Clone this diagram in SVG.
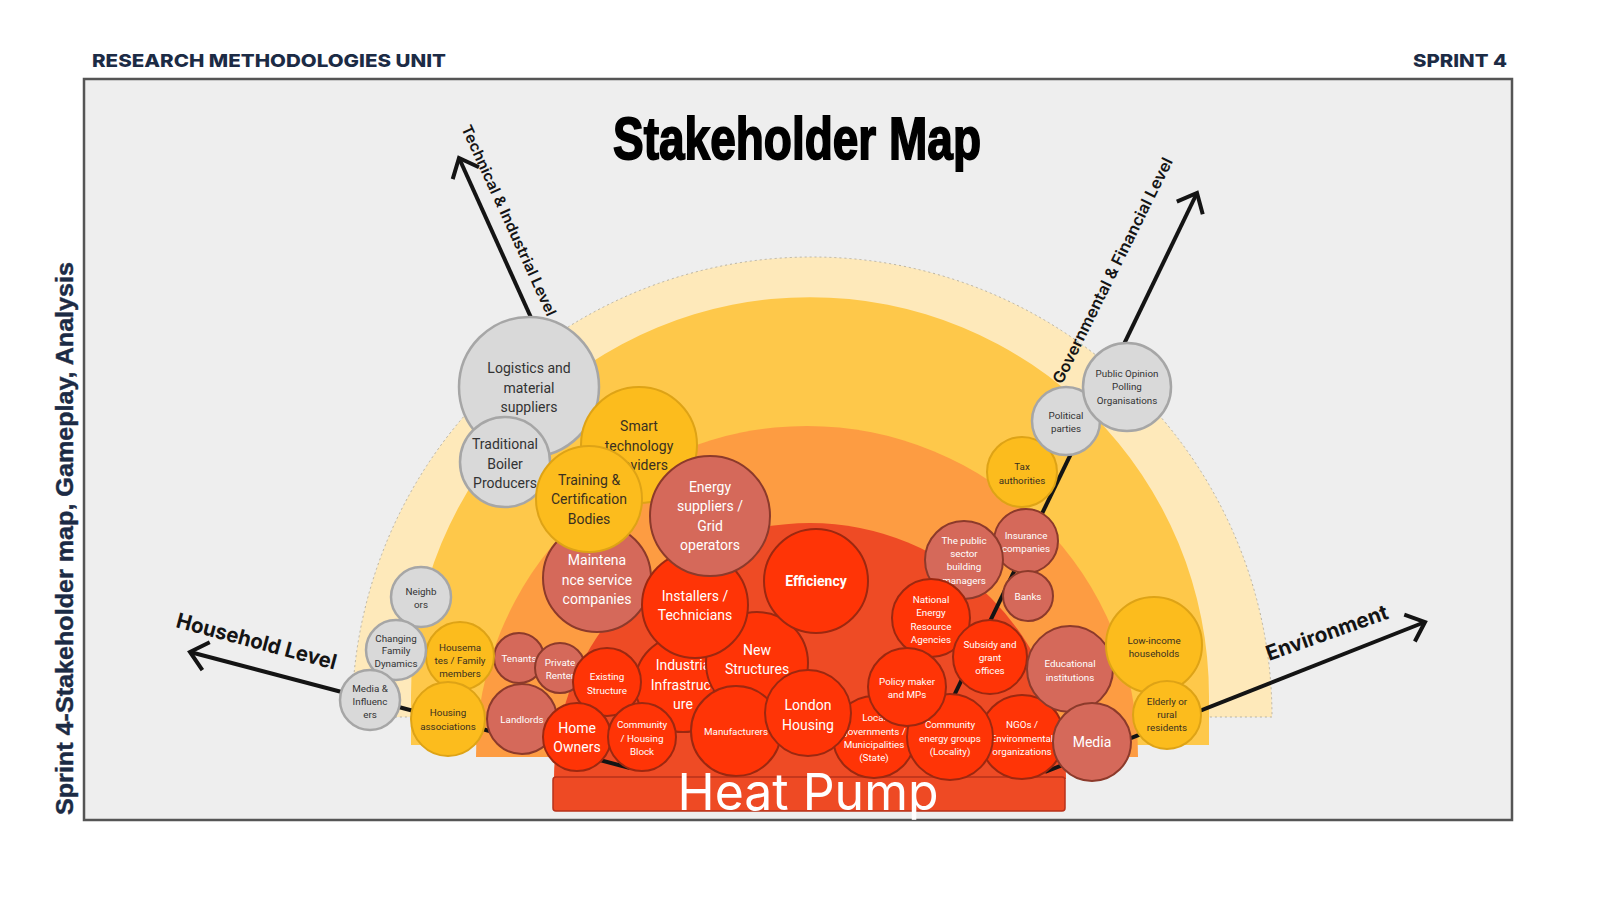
<svg xmlns="http://www.w3.org/2000/svg" width="1600" height="900" viewBox="0 0 1600 900">
<defs>
<style>
.hdr{font-family:Inter,"Liberation Sans",sans-serif;font-weight:800;fill:#1c2b45}
.title{font-family:"Liberation Sans",Arial,sans-serif;font-weight:700;fill:#000;stroke:#000;stroke-width:1.8}
.side{font-family:"Liberation Sans",Arial,sans-serif;font-weight:700;fill:#1c2b45;stroke:#1c2b45;stroke-width:0.4}
.axis{fill:none;stroke:#141414;stroke-width:4}
.axl{font-family:Inter,"Liberation Sans",sans-serif;fill:#141414}
.n text{font-family:Roboto,"Liberation Sans",sans-serif;text-anchor:middle}
.L{font-size:14px}
.S{font-size:9.8px}
.g circle{fill:#d9d9d9;stroke:#a6a6a6;stroke-width:2.5}
.g text{fill:#333}
.y circle{fill:#fcbc1d;stroke:#dea316;stroke-width:2}
.y text{fill:#3a3020}
.s circle{fill:#d5695a;stroke:#8c3a2b;stroke-width:2}
.s text{fill:#fff}
.r circle{fill:#ff3406;stroke:#9c2810;stroke-width:2}
.r text{fill:#fff}
</style>
<marker id="chev" markerUnits="userSpaceOnUse" orient="auto" refX="0" refY="0" markerWidth="40" markerHeight="40" overflow="visible">
<path d="M -16.6 -14.4 L 0 0 L -16.6 14.4" fill="none" stroke="#141414" stroke-width="4" stroke-linejoin="miter" stroke-miterlimit="10"/>
</marker>
</defs>

<rect x="0" y="0" width="1600" height="900" fill="#ffffff"/>
<text class="hdr" x="92" y="67" font-size="18" textLength="354" lengthAdjust="spacingAndGlyphs">RESEARCH METHODOLOGIES UNIT</text>
<text class="hdr" x="1413" y="67" font-size="18" textLength="94" lengthAdjust="spacingAndGlyphs">SPRINT 4</text>

<rect x="84" y="79" width="1428" height="741" fill="#eeeeee" stroke="#555555" stroke-width="2.5"/>

<text class="side" transform="translate(73,815) rotate(-90)" font-size="23" textLength="553" lengthAdjust="spacingAndGlyphs">Sprint 4-Stakeholder map, Gameplay, Analysis</text>

<text class="title" x="613" y="159" font-size="59" textLength="368" lengthAdjust="spacingAndGlyphs">Stakeholder Map</text>

<g id="bands">
<path d="M 352 717 A 460 460 0 0 1 1272 717 Z" fill="#fee9ba" stroke="#b9b2a0" stroke-width="1" stroke-dasharray="2 3"/>
<path d="M 411 745 L 411 696 A 399 399 0 0 1 1209 696 L 1209 745 Z" fill="#fec84a"/>
<path d="M 476 757 A 331 331 0 0 1 1138 757 Z" fill="#fd9c42"/>
<path d="M 554 779 A 256 256 0 0 1 1066 779 Z" fill="#ee4b25"/>
</g>

<g id="connectors">
<path class="axis" d="M 533 322 L 459 158" marker-end="url(#chev)"/>
<path class="axis" d="M 935 735 L 1197 193" marker-end="url(#chev)"/>
<path class="axis" d="M 630 768 L 190 652" marker-end="url(#chev)"/>
<path class="axis" d="M 1045 772 L 1425 622" marker-end="url(#chev)"/>
<text class="axl" transform="translate(461,128) rotate(65.5)" font-size="15" font-weight="600" textLength="208" lengthAdjust="spacingAndGlyphs">Technical &amp; Industrial Level</text>
<text class="axl" transform="translate(1062,385) rotate(-63.6)" font-size="16" font-weight="600" textLength="250" lengthAdjust="spacingAndGlyphs">Governmental &amp; Financial Level</text>
<text class="axl" transform="translate(175,627) rotate(15)" font-size="21" font-weight="700" textLength="165" lengthAdjust="spacingAndGlyphs">Household Level</text>
<text class="axl" transform="translate(1269,661) rotate(-19.5)" font-size="21" font-weight="700" textLength="128" lengthAdjust="spacingAndGlyphs">Environment</text>
</g>

<g id="heat-pump">
<rect x="553" y="777" width="512" height="34" rx="3" fill="#ee4a24" stroke="#b8321a" stroke-width="1.5"/>
<text x="808" y="810" font-family="Inter,'Liberation Sans',sans-serif" font-size="51" fill="#ffffff" text-anchor="middle" textLength="261" lengthAdjust="spacingAndGlyphs">Heat Pump</text>
</g>

<g id="nodes">
<g id="n-logistics" class="n g"><circle cx="529" cy="387" r="70"/><text class="L"><tspan x="529" y="373">Logistics and</tspan><tspan x="529" y="393">material</tspan><tspan x="529" y="412">suppliers</tspan></text></g>
<g id="n-smart" class="n y"><circle cx="639" cy="445" r="58"/><text class="L"><tspan x="639" y="431">Smart</tspan><tspan x="639" y="451">technology</tspan><tspan x="639" y="470">providers</tspan></text></g>
<g id="n-boiler" class="n g"><circle cx="505" cy="462" r="45"/><text class="L"><tspan x="505" y="449">Traditional</tspan><tspan x="505" y="469">Boiler</tspan><tspan x="505" y="488">Producers</tspan></text></g>
<g id="n-maintenance" class="n s"><circle cx="597" cy="578" r="54"/><text class="L"><tspan x="597" y="565">Maintena</tspan><tspan x="597" y="585">nce service</tspan><tspan x="597" y="604">companies</tspan></text></g>
<g id="n-training" class="n y"><circle cx="589" cy="499" r="53"/><text class="L"><tspan x="589" y="485">Training &amp;</tspan><tspan x="589" y="504">Certification</tspan><tspan x="589" y="524">Bodies</tspan></text></g>
<g id="n-industrial" class="n r"><circle cx="683" cy="684" r="48"/><text class="L"><tspan x="683" y="670">Industria</tspan><tspan x="683" y="690">Infrastruct</tspan><tspan x="683" y="709">ure</tspan></text></g>
<g id="n-new-structures" class="n r"><circle cx="757" cy="663" r="51"/><text class="L"><tspan x="757" y="655">New</tspan><tspan x="757" y="674">Structures</tspan></text></g>
<g id="n-installers" class="n r"><circle cx="695" cy="605" r="53"/><text class="L"><tspan x="695" y="601">Installers /</tspan><tspan x="695" y="620">Technicians</tspan></text></g>
<g id="n-energy" class="n s"><circle cx="710" cy="516" r="60"/><text class="L"><tspan x="710" y="492">Energy</tspan><tspan x="710" y="511">suppliers /</tspan><tspan x="710" y="531">Grid</tspan><tspan x="710" y="550">operators</tspan></text></g>
<g id="n-efficiency" class="n r"><circle cx="816" cy="581" r="52"/><text class="L" x="816" y="586" font-weight="700">Efficiency</text></g>

<g id="n-tenants" class="n s"><circle cx="519" cy="658" r="25"/><text class="S" x="519" y="661.5">Tenants</text></g>
<g id="n-private-renter" class="n s"><circle cx="560" cy="668" r="25"/><text class="S"><tspan x="560" y="665.5">Private</tspan><tspan x="560" y="678.5">Renter</tspan></text></g>
<g id="n-existing" class="n r"><circle cx="607" cy="682" r="34"/><text class="S"><tspan x="607" y="679.5">Existing</tspan><tspan x="607" y="693.5">Structure</tspan></text></g>
<g id="n-landlords" class="n s"><circle cx="522" cy="719" r="35"/><text class="S" x="522" y="722.5">Landlords</text></g>
<g id="n-home-owners" class="n r"><circle cx="577" cy="737" r="34"/><text class="L"><tspan x="577" y="733">Home</tspan><tspan x="577" y="752">Owners</tspan></text></g>
<g id="n-community-housing" class="n r"><circle cx="642" cy="737" r="34"/><text class="S"><tspan x="642" y="727.5">Community</tspan><tspan x="642" y="741.5">/ Housing</tspan><tspan x="642" y="754.5">Block</tspan></text></g>
<g id="n-manufacturers" class="n r"><circle cx="736" cy="731" r="45"/><text class="S" x="736" y="734.5">Manufacturers</text></g>
<g id="n-local-gov" class="n r"><circle cx="874" cy="737" r="41"/><text class="S"><tspan x="874" y="720.5">Local</tspan><tspan x="874" y="734.5">governments /</tspan><tspan x="874" y="747.5">Municipalities</tspan><tspan x="874" y="760.5">(State)</tspan></text></g>
<g id="n-london" class="n r"><circle cx="808" cy="713" r="43"/><text class="L"><tspan x="808" y="710">London</tspan><tspan x="808" y="730">Housing</tspan></text></g>

<g id="n-tax" class="n y"><circle cx="1022" cy="472" r="35"/><text class="S"><tspan x="1022" y="469.5">Tax</tspan><tspan x="1022" y="483.5">authorities</tspan></text></g>
<g id="n-insurance" class="n s"><circle cx="1026" cy="541" r="32"/><text class="S"><tspan x="1026" y="538.5">Insurance</tspan><tspan x="1026" y="551.5">companies</tspan></text></g>
<g id="n-political" class="n g"><circle cx="1066" cy="421" r="34"/><text class="S"><tspan x="1066" y="418.5">Political</tspan><tspan x="1066" y="431.5">parties</tspan></text></g>
<g id="n-polling" class="n g"><circle cx="1127" cy="387" r="44"/><text class="S"><tspan x="1127" y="376.5">Public Opinion</tspan><tspan x="1127" y="389.5">Polling</tspan><tspan x="1127" y="403.5">Organisations</tspan></text></g>
<g id="n-public-sector" class="n s"><circle cx="964" cy="560" r="39"/><text class="S"><tspan x="964" y="543.5">The public</tspan><tspan x="964" y="556.5">sector</tspan><tspan x="964" y="569.5">building</tspan><tspan x="964" y="583.5">managers</tspan></text></g>
<g id="n-banks" class="n s"><circle cx="1028" cy="596" r="25"/><text class="S" x="1028" y="599.5">Banks</text></g>
<g id="n-national-energy" class="n r"><circle cx="931" cy="618" r="39"/><text class="S"><tspan x="931" y="602.5">National</tspan><tspan x="931" y="615.5">Energy</tspan><tspan x="931" y="629.5">Resource</tspan><tspan x="931" y="642.5">Agencies</tspan></text></g>
<g id="n-subsidy" class="n r"><circle cx="990" cy="657" r="37"/><text class="S"><tspan x="990" y="647.5">Subsidy and</tspan><tspan x="990" y="660.5">grant</tspan><tspan x="990" y="673.5">offices</tspan></text></g>
<g id="n-ngos" class="n r"><circle cx="1022" cy="737" r="42"/><text class="S"><tspan x="1022" y="727.5">NGOs /</tspan><tspan x="1022" y="741.5">Environmental</tspan><tspan x="1022" y="754.5">organizations</tspan></text></g>
<g id="n-community-energy" class="n r"><circle cx="950" cy="737" r="43"/><text class="S"><tspan x="950" y="727.5">Community</tspan><tspan x="950" y="741.5">energy groups</tspan><tspan x="950" y="754.5">(Locality)</tspan></text></g>
<g id="n-policy" class="n r"><circle cx="907" cy="687" r="39"/><text class="S"><tspan x="907" y="684.5">Policy maker</tspan><tspan x="907" y="697.5">and MPs</tspan></text></g>
<g id="n-educational" class="n s"><circle cx="1070" cy="669" r="43"/><text class="S"><tspan x="1070" y="666.5">Educational</tspan><tspan x="1070" y="680.5">institutions</tspan></text></g>
<g id="n-media" class="n s"><circle cx="1092" cy="742" r="39"/><text class="L" x="1092" y="747">Media</text></g>
<g id="n-low-income" class="n y"><circle cx="1154" cy="645" r="48"/><text class="S"><tspan x="1154" y="643.5">Low-income</tspan><tspan x="1154" y="656.5">households</tspan></text></g>
<g id="n-elderly" class="n y"><circle cx="1167" cy="715" r="34"/><text class="S"><tspan x="1167" y="704.5">Elderly or</tspan><tspan x="1167" y="717.5">rural</tspan><tspan x="1167" y="730.5">residents</tspan></text></g>

<g id="n-housemates" class="n y"><circle cx="460" cy="656" r="34"/><text class="S"><tspan x="460" y="650.5">Housema</tspan><tspan x="460" y="663.5">tes / Family</tspan><tspan x="460" y="676.5">members</tspan></text></g>
<g id="n-housing-assoc" class="n y"><circle cx="448" cy="719" r="37"/><text class="S"><tspan x="448" y="715.5">Housing</tspan><tspan x="448" y="729.5">associations</tspan></text></g>
<g id="n-neighbors" class="n g"><circle cx="421" cy="597" r="30"/><text class="S"><tspan x="421" y="594.5">Neighb</tspan><tspan x="421" y="607.5">ors</tspan></text></g>
<g id="n-changing" class="n g"><circle cx="396" cy="650" r="30"/><text class="S"><tspan x="396" y="641.5">Changing</tspan><tspan x="396" y="653.5">Family</tspan><tspan x="396" y="666.5">Dynamics</tspan></text></g>
<g id="n-media-influencers" class="n g"><circle cx="370" cy="700" r="30"/><text class="S"><tspan x="370" y="691.5">Media &amp;</tspan><tspan x="370" y="704.5">Influenc</tspan><tspan x="370" y="717.5">ers</tspan></text></g>
</g>
</svg>
